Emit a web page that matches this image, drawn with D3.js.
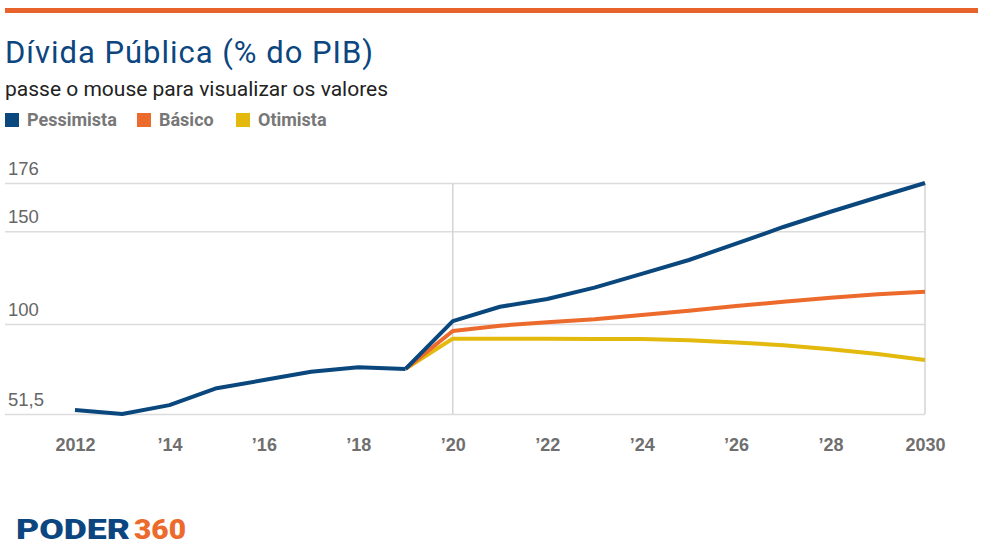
<!DOCTYPE html>
<html>
<head>
<meta charset="utf-8">
<script src="https://cdn.jsdelivr.net/npm/d3@7"></script>
<style>
  body { margin: 0; background: #fff; font-family: Roboto, "Noto Sans", sans-serif; }
  .grid line { stroke: #dcdcdc; stroke-width: 1.5; }
  .grid text { fill: #666; font-size: 18.5px; }
  .xaxis text { fill: #6f6f6f; font-size: 18px; font-weight: 700; }
</style>
</head>
<body>
<script>
// data
const years = [2012, 2013, 2014, 2015, 2016, 2017, 2018, 2019, 2020, 2021, 2022, 2023, 2024, 2025, 2026, 2027, 2028, 2029, 2030];
const historico = [53.7, 51.5, 56.3, 65.4, 69.8, 74.3, 76.7, 75.8];
const pessimista = [101.6, 109.3, 113.5, 119.6, 127.0, 134.5, 143.3, 152.3, 160.5, 168.3, 176.0];
const basico = [96.2, 99.1, 100.9, 102.6, 104.9, 107.2, 109.7, 112.0, 114.2, 116.0, 117.4];
const otimista = [92.1, 92.1, 92.0, 91.9, 91.9, 91.2, 90.1, 88.6, 86.4, 83.8, 80.6];

const seriesNames = ["Pessimista", "Básico", "Otimista"];
const seriesColors = ["#0a477d", "#ec6a2c", "#e2b90c"];

const xTicks = [2012, 2014, 2016, 2018, 2020, 2022, 2024, 2026, 2028, 2030];
const xTickLabels = ["2012", "\u201914", "\u201916", "\u201918", "\u201920", "\u201922", "\u201924", "\u201926", "\u201928", "2030"];
const yTicks = [51.5, 100, 150, 176];
const yTickLabels = ["51,5", "100", "150", "176"];

const W = 995, H = 559;
const svg = d3.select("body").append("svg")
    .attr("width", W)
    .attr("height", H);

// top orange bar
svg.append("rect")
    .attr("x", 5).attr("y", 8)
    .attr("width", 973).attr("height", 5)
    .attr("fill", "#e8632b");

// title, subtitle
svg.append("text")
    .attr("x", 5).attr("y", 63)
    .attr("fill", "#0b4680")
    .attr("textLength", 368)
    .attr("lengthAdjust", "spacing")
    .style("font-size", "31px")
    .text("Dívida Pública (% do PIB)");

svg.append("text")
    .attr("x", 5).attr("y", 96)
    .attr("fill", "#222")
    .style("font-size", "21px")
    .text("passe o mouse para visualizar os valores");

// legend
const legendX = [5, 137, 236];
const legend = svg.selectAll(".legend")
    .data(seriesNames)
  .enter().append("g")
    .attr("class", "legend")
    .attr("transform", (d, i) => "translate(" + legendX[i] + ",113)");
legend.append("rect")
    .attr("width", 14).attr("height", 14)
    .attr("fill", (d, i) => seriesColors[i]);
legend.append("text")
    .attr("x", 22).attr("y", 13)
    .attr("fill", "#777")
    .style("font-size", "18px")
    .style("font-weight", "700")
    .text(d => d);

// scales
const x = d3.scaleLinear().domain([2012, 2030]).range([75, 925]);
const y = d3.scaleLinear().domain([51.5, 176]).range([414, 183]);

// horizontal grid + y labels
const gy = svg.append("g")
    .attr("class", "grid")
    .attr("transform", "translate(5,0)")
    .call(d3.axisRight(y).tickValues(yTicks).tickSize(920)
      .tickFormat((d, i) => yTickLabels[i]));
gy.select(".domain").remove();
gy.selectAll("text")
    .attr("x", 3)
    .attr("dy", -9);

// vertical lines at 2020 and 2030
svg.selectAll(".vline")
    .data([2020, 2030])
  .enter().append("line")
    .attr("class", "vline")
    .attr("x1", d => x(d)).attr("x2", d => x(d))
    .attr("y1", y(176)).attr("y2", y(51.5))
    .attr("stroke", "#d4d4d4")
    .attr("stroke-width", 1.5);

// x axis
const gx = svg.append("g")
    .attr("class", "xaxis")
    .attr("transform", "translate(0," + y(51.5) + ")")
    .call(d3.axisBottom(x).tickValues(xTicks).tickSize(0)
      .tickFormat((d, i) => xTickLabels[i]));
gx.select(".domain").remove();
gx.selectAll("text").attr("y", 37).attr("dy", 0);

// lines
const line = d3.line()
    .x(d => x(d[0]))
    .y(d => y(d[1]));

const hist = historico.map((v, i) => [years[i], v]);
const proj = [otimista, basico, pessimista];
const projColors = [seriesColors[2], seriesColors[1], seriesColors[0]];
proj.forEach((s, k) => {
  const pts = [hist[hist.length - 1]].concat(s.map((v, i) => [years[8 + i], v]));
  svg.append("path")
      .datum(pts)
      .attr("fill", "none")
      .attr("stroke", projColors[k])
      .attr("stroke-width", 4)
      .attr("stroke-linejoin", "round")
      .attr("d", line);
});

svg.append("path")
    .datum(hist)
    .attr("fill", "none")
    .attr("stroke", seriesColors[0])
    .attr("stroke-width", 4)
    .attr("stroke-linejoin", "round")
    .attr("d", line);

// logo
const logo = svg.append("text")
    .attr("x", 16).attr("y", 539)
    .style("font-size", "27px")
    .style("font-weight", "900")
    .style("font-family", "Roboto, sans-serif");
logo.append("tspan").attr("fill", "#0b4680").attr("textLength", 114).attr("lengthAdjust", "spacingAndGlyphs").text("PODER");
logo.append("tspan").attr("fill", "#ec6a2c").attr("dx", 4).attr("textLength", 52).attr("lengthAdjust", "spacingAndGlyphs").text("360");
</script>
</body>
</html>
